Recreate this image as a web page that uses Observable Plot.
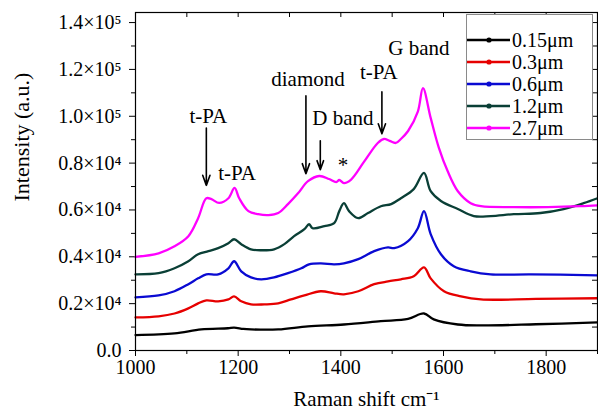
<!DOCTYPE html>
<html>
<head>
<meta charset="utf-8">
<script src="https://cdn.jsdelivr.net/npm/d3@7"></script>
<script src="https://cdn.jsdelivr.net/npm/@observablehq/plot@0.6"></script>
<style>
  html, body { margin: 0; padding: 0; background: #fff; }
  #wrap { position: relative; width: 598px; height: 418px; font-family: "Liberation Serif", "Times New Roman", serif; }
  #legend { position: absolute; left: 466px; top: 14px; width: 127px; height: 126px; border: 1px solid #8a8a8a; background: #fff; box-sizing: border-box; }
  .row { position: absolute; left: 0; height: 20px; line-height: 20px; font-size: 20px; color: #000; white-space: nowrap; font-family: "Liberation Serif", serif; }
  .row svg { position: absolute; left: 0; top: 0; }
  .row span { position: absolute; display: block; left: 45px; top: 0; height: 20px; line-height: 20px; }
</style>
</head>
<body>
<div id="wrap"><div id="chart"></div><div id="legend"></div></div>
<script>
// Series (values in units of 10^4 a.u.)
const seriesNames = ["0.15μm", "0.3μm", "0.6μm", "1.2μm", "2.7μm"];
const seriesColors = ["#000000", "#e60000", "#0a0ad2", "#0a3f36", "#ff00ff"];

const x015 = [1000,1076,1128,1180,1192,1210,1225,1278,1336,1406,1478,1531,1562,1581,1628,1673,1780,1900];
const y015 = [0.66,0.73,0.90,0.95,0.98,0.92,0.90,0.90,1.03,1.11,1.25,1.35,1.58,1.33,1.11,1.07,1.12,1.20];

const x03 = [1000,1045,1076,1103,1122,1138,1161,1181,1192,1206,1225,1251,1278,1303,1329,1361,1387,1406,1434,1465,1492,1517,1542,1562,1575,1601,1634,1673,1780,1900];
const y03 = [1.41,1.46,1.58,1.80,2.01,2.14,2.10,2.18,2.31,2.10,1.97,1.97,2.01,2.18,2.35,2.53,2.44,2.40,2.53,2.83,2.95,3.04,3.17,3.55,3.08,2.53,2.31,2.18,2.20,2.23];

const x06 = [1000,1045,1076,1103,1122,1138,1161,1181,1192,1206,1225,1245,1270,1297,1323,1338,1361,1387,1406,1434,1465,1492,1504,1531,1550,1562,1575,1595,1620,1653,1692,1770,1900];
const y06 = [2.27,2.35,2.53,2.83,3.08,3.25,3.25,3.51,3.81,3.38,3.12,3.04,3.12,3.30,3.51,3.68,3.72,3.68,3.72,3.90,4.24,4.40,4.37,4.67,5.22,5.95,4.97,4.11,3.60,3.38,3.25,3.25,3.21];

const x12 = [1000,1045,1076,1103,1122,1142,1161,1181,1192,1206,1225,1245,1270,1290,1309,1329,1338,1345,1368,1387,1397,1406,1416,1434,1453,1478,1498,1517,1542,1562,1575,1595,1628,1659,1692,1737,1789,1834,1873,1900];
const y12 = [3.25,3.30,3.51,3.81,4.11,4.24,4.37,4.58,4.75,4.54,4.32,4.28,4.32,4.54,4.88,5.18,5.39,5.22,5.31,5.44,5.95,6.29,5.95,5.65,5.87,6.16,6.25,6.50,6.89,7.58,6.80,6.38,6.04,5.74,5.74,5.82,5.87,6.04,6.29,6.50];

const x27 = [1000,1045,1076,1103,1122,1138,1148,1163,1181,1193,1202,1220,1239,1259,1278,1297,1317,1336,1358,1377,1391,1397,1406,1420,1445,1472,1484,1495,1507,1517,1531,1550,1560,1575,1591,1608,1628,1653,1673,1737,1803,1867,1900];
const y27 = [4.00,4.15,4.45,4.88,5.65,6.50,6.46,6.30,6.50,6.94,6.50,5.95,5.82,5.78,5.87,6.25,6.72,7.23,7.45,7.32,7.19,7.28,7.15,7.30,8.05,8.86,9.03,8.95,8.86,9.03,9.37,10.20,11.20,9.93,8.65,7.66,6.80,6.29,6.16,6.12,6.12,6.16,6.20];

// Axis ticks
const xMajor = [1000, 1200, 1400, 1600, 1800];
const xMinor = [1100, 1300, 1500, 1700, 1900];
const yMajor = [0, 2, 4, 6, 8, 10, 12, 14];
const yTickLabels = ["0.0", "0.2×10⁴", "0.4×10⁴", "0.6×10⁴", "0.8×10⁴", "1.0×10⁵", "1.2×10⁵", "1.4×10⁵"];
const yMinor = [1, 3, 5, 7, 9, 11, 13];
const xTitle = "Raman shift cm⁻¹";
const yTitle = "Intensity (a.u.)";

// Annotations
const noteText = ["t-PA", "t-PA", "diamond", "D band", "t-PA", "G band", "*"];
const noteX = [1142, 1198, 1336, 1404, 1474, 1552, 1404];
const noteY = [9.99, 7.58, 11.56, 9.93, 11.86, 12.89, 7.9];
const arrowX = [1138, 1332, 1360, 1480];
const arrowY1 = [9.50, 10.87, 8.95, 11.04];
const arrowY2 = [7.05, 7.55, 7.72, 9.25];

// Build table
const xs = [x015, x03, x06, x12, x27];
const ys = [y015, y03, y06, y12, y27];
const rows = [];
seriesNames.forEach((name, s) => xs[s].forEach((x, i) => rows.push({series: name, x, y: ys[s][i]})));
const labelMap = new Map(yMajor.map((v, i) => [v, yTickLabels[i]]));
const arrows = arrowX.map((x, i) => ({x, y1: arrowY1[i], y2: arrowY2[i]}));
const notes = noteText.map((t, i) => ({t, x: noteX[i], y: noteY[i]}));

const W = 598, H = 418, mL = 135, mR = 1, mT = 12, mB = 68;
const innerW = W - mL - mR, innerH = H - mT - mB;

const chart = Plot.plot({
  width: W, height: H,
  marginLeft: mL, marginRight: mR, marginTop: mT, marginBottom: mB,
  style: {fontFamily: "Liberation Serif, Times New Roman, serif", fontSize: "20px", color: "#000", background: "#fff"},
  x: {domain: [1000, 1900]},
  y: {domain: [0, 14.43]},
  color: {domain: seriesNames, range: seriesColors},
  marks: [
    Plot.axisX({ticks: xMajor, tickSize: 6, tickPadding: 3, tickFormat: d => String(d), label: null, fontSize: 20}),
    Plot.axisX({ticks: xMinor, tickSize: 4, tickFormat: () => "", label: null}),
    Plot.axisY({ticks: yMajor, tickSize: 6, tickPadding: 8, tickFormat: d => labelMap.get(d), label: null, fontSize: 20}),
    Plot.axisY({ticks: yMinor, tickSize: 4, tickFormat: () => "", label: null}),
    Plot.tickX(xMajor.concat(xMinor), {x: d => d, insetBottom: innerH - 5, stroke: "#000"}),
    Plot.tickY(yMajor.concat(yMinor), {y: d => d, insetLeft: innerW - 5, stroke: "#000"}),
    Plot.line(rows, {x: "x", y: "y", z: "series", stroke: "series", strokeWidth: 2.3, curve: "catmull-rom"}),
    Plot.arrow(arrows, {x: "x", y1: "y1", y2: "y2", stroke: "#000", strokeWidth: 1.6, headLength: 10, headAngle: 40}),
    Plot.text(notes, {x: "x", y: "y", text: "t", fontSize: 21, fill: "#000"}),
    Plot.text([xTitle], {frameAnchor: "bottom", dy: 55, fontSize: 21, fill: "#000"}),
    Plot.text([yTitle], {frameAnchor: "left", dx: -114, dy: 20, rotate: -90, fontSize: 22, fill: "#000"}),
    Plot.frame({stroke: "#000", strokeWidth: 1.2})
  ]
});
document.getElementById("chart").appendChild(chart);

// Legend
const legend = document.getElementById("legend");
const rowCenters = [26, 48, 70, 92, 114];
seriesNames.forEach((name, i) => {
  const r = document.createElement("div");
  r.className = "row";
  r.style.top = (rowCenters[i] - 10 - 1) + "px";
  r.innerHTML = `<svg width="44" height="20"><line x1="0" y1="10" x2="43" y2="10" stroke="${seriesColors[i]}" stroke-width="2.3"/><circle cx="22" cy="10" r="2.6" fill="${seriesColors[i]}"/></svg><span>${name}</span>`;
  legend.appendChild(r);
});
</script>
</body>
</html>
